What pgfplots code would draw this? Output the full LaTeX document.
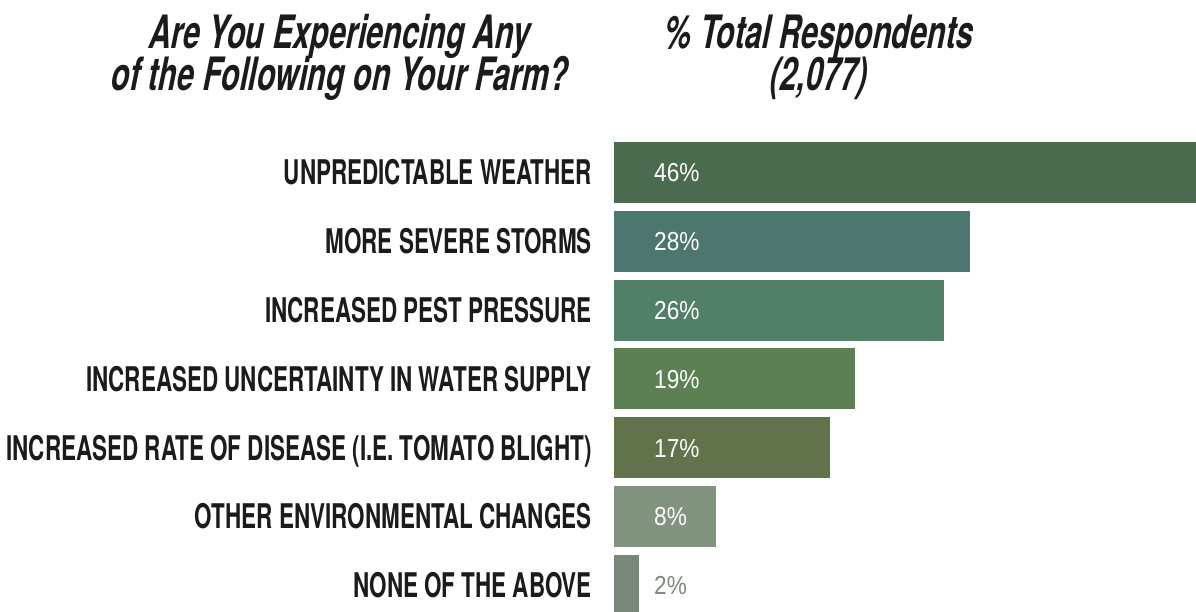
\documentclass[border=0pt]{standalone}
\usepackage{fontspec}
\usepackage{pgfplots}
\pgfplotsset{compat=1.18}
\setmainfont{TeX Gyre Heros}
\newfontfamily\condfont[FakeStretch=0.66]{TeX Gyre Heros}
\newfontfamily\titlefont[FakeStretch=0.665,FakeSlant=0.2]{TeX Gyre Heros}
\newfontfamily\valfont[FakeStretch=0.87]{Liberation Sans}
\definecolor{c1}{HTML}{4B6B4E}
\definecolor{c2}{HTML}{4D766F}
\definecolor{c3}{HTML}{527F68}
\definecolor{c4}{HTML}{5C8054}
\definecolor{c5}{HTML}{62734C}
\definecolor{c6}{HTML}{82937F}
\definecolor{c7}{HTML}{7A8679}
\definecolor{lblgray}{HTML}{7E897E}
\definecolor{ink}{HTML}{1B1B1B}
\begin{document}
\begin{tikzpicture}
\path[use as bounding box] (0pt,0pt) rectangle (1196pt,-611pt);
\tikzset{ttl/.style={anchor=base, inner sep=0pt, text=ink, font=\titlefont\bfseries\fontsize{46}{46}\selectfont}}
\node[ttl] at (338pt,-48pt) {Are You Experiencing Any};
\node[ttl] at (338pt,-90pt) {of the Following on Your Farm?};
\node[ttl] at (817pt,-48pt) {\% Total Respondents};
\node[ttl] at (817pt,-90pt) {(2,077)};
\begin{axis}[
  at={(614pt,-611pt)}, anchor=south west,
  scale only axis, width=582pt, height=481pt,
  xmin=0, xmax=45.8, ymin=-0.6175, ymax=6.371, y dir=reverse,
  axis line style={draw=none}, major tick length=0pt,
  xtick=\empty, ytick={0,1,2,3,4,5,6},
  yticklabels={UNPREDICTABLE WEATHER, MORE SEVERE STORMS, INCREASED PEST PRESSURE, INCREASED UNCERTAINTY IN WATER SUPPLY, INCREASED RATE OF DISEASE (I.E. TOMATO BLIGHT), OTHER ENVIRONMENTAL CHANGES, NONE OF THE ABOVE},
  yticklabel style={anchor=east, inner sep=0pt, xshift=-22pt, text=ink,
    font=\condfont\bfseries\fontsize{34}{34}\selectfont, text height=24.5pt, text depth=0pt},
  clip=true,
]
\addplot[xbar, bar width=61pt, bar shift=0pt, fill=c1, draw=none] coordinates {(46,0)};
\addplot[xbar, bar width=61pt, bar shift=0pt, fill=c2, draw=none] coordinates {(28,1)};
\addplot[xbar, bar width=61pt, bar shift=0pt, fill=c3, draw=none] coordinates {(26,2)};
\addplot[xbar, bar width=61pt, bar shift=0pt, fill=c4, draw=none] coordinates {(19,3)};
\addplot[xbar, bar width=61pt, bar shift=0pt, fill=c5, draw=none] coordinates {(17,4)};
\addplot[xbar, bar width=61pt, bar shift=0pt, fill=c6, draw=none] coordinates {(8,5)};
\addplot[xbar, bar width=61pt, bar shift=0pt, fill=c7, draw=none] coordinates {(2,6)};
\addplot[draw=none, mark=none, point meta=explicit symbolic,
  nodes near coords={\pgfplotspointmeta\%},
  every node near coord/.append style={anchor=west, xshift=40pt, inner sep=0pt, text=white,
    font=\valfont\fontsize{26}{26}\selectfont, text height=18.6pt, text depth=0pt}]
  table[meta=v] {
x y v
0 0 46
0 1 28
0 2 26
0 3 19
0 4 17
0 5 8
};
\addplot[draw=none, mark=none, point meta=explicit symbolic,
  nodes near coords={\pgfplotspointmeta\%},
  every node near coord/.append style={anchor=west, xshift=40pt, inner sep=0pt, text=lblgray,
    font=\valfont\fontsize{26}{26}\selectfont, text height=18.6pt, text depth=0pt}]
  table[meta=v] {
x y v
0 6 2
};
\end{axis}
\end{tikzpicture}
\end{document}
